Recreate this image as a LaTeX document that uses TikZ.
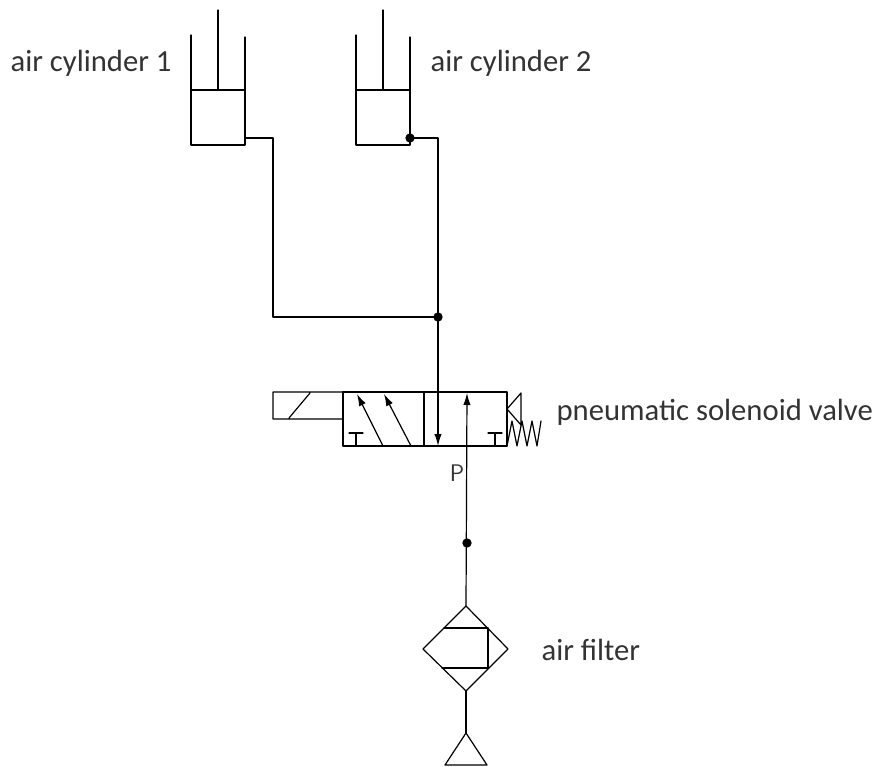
\documentclass[tikz,border=0pt]{standalone}
\usepackage{fontspec}
\setmainfont{Carlito}
\usetikzlibrary{arrows.meta}
\begin{document}
\begin{tikzpicture}[x=0.75pt,y=-0.75pt,>={Latex[length=9pt,width=5.5pt]},line join=round,line cap=round,line width=0.9pt,
	lbl/.style={font=\fontsize{23}{27}\selectfont,text=black!80,anchor=base west,inner sep=0pt},
	dot/.style={circle,fill,inner sep=0pt,minimum size=7pt}]
	\useasboundingbox (0,0) rectangle (886,767);
	\path
	(245,138) coordinate (port1)
	(410,138) coordinate (port2)
	(273,317) coordinate (bend1)
	(438,317) coordinate (junc)
	(438,446) coordinate (portA)
	(467,393) coordinate (portP)
	(467,543) coordinate (pdot)
	(466,606) coordinate (ftop)
	(466,691) coordinate (fbot)
	(466,733) coordinate (tank);
	% cylinders
	\foreach \x/\n in {191/1,356/2}{
		\draw (\x,35)--(\x,145)--(\x+54,145)--(\x+54,37) (\x,90)--(\x+54,90) (\x+27,10)--(\x+27,90);
	}
	\draw (port1) -| (bend1) -- (junc);
	\draw (port2) -| (junc);
	\draw[->] (junc) -- (portA);
	\node[dot] at (port2) {};
	\node[dot] at (junc) {};
	% solenoid valve
	\draw (273,392) rectangle (343,419) (289,418)--(310,393);
	\draw (343,392) rectangle (507,446) (424,392)--(424,446);
	\draw[->] (383,446) -- (357,394);
	\draw[->] (411,446) -- (384,394);
	\draw (356,433)--(356,446) (349,433)--(363,433) (495,433)--(495,446) (488,433)--(502,433);
	\draw (507,409)--(521,393)--(521,425)--cycle;
	\draw (507,446)--(512,421)--(517,446)--(522,421)--(527,446)--(532,421)--(537,446)--(541,421);
	\draw[->] (ftop) -- (portP);
	\node[dot] at (pdot) {};
	\node[font=\sffamily\fontsize{18}{20}\selectfont,text=black!80,inner sep=0pt] (plabel) at (457,473) {P};
	% air filter
	\draw (ftop)--(508,649)--(fbot)--(423,649)--cycle;
	\draw (444,628)--(488,628)--(488,668)--(442,668);
	\draw (fbot) -- (tank);
	\draw (tank)--(445,765)--(487,765)--cycle;
	% labels
	\node[lbl] (cyl1) at (10,72) {air cylinder 1};
	\node[lbl] (cyl2) at (430,72) {air cylinder 2};
	\node[lbl] (valve) at (556,420) {pneumatic solenoid valve};
	\node[lbl] (filter) at (541,660) {air filter};
\end{tikzpicture}
\end{document}
